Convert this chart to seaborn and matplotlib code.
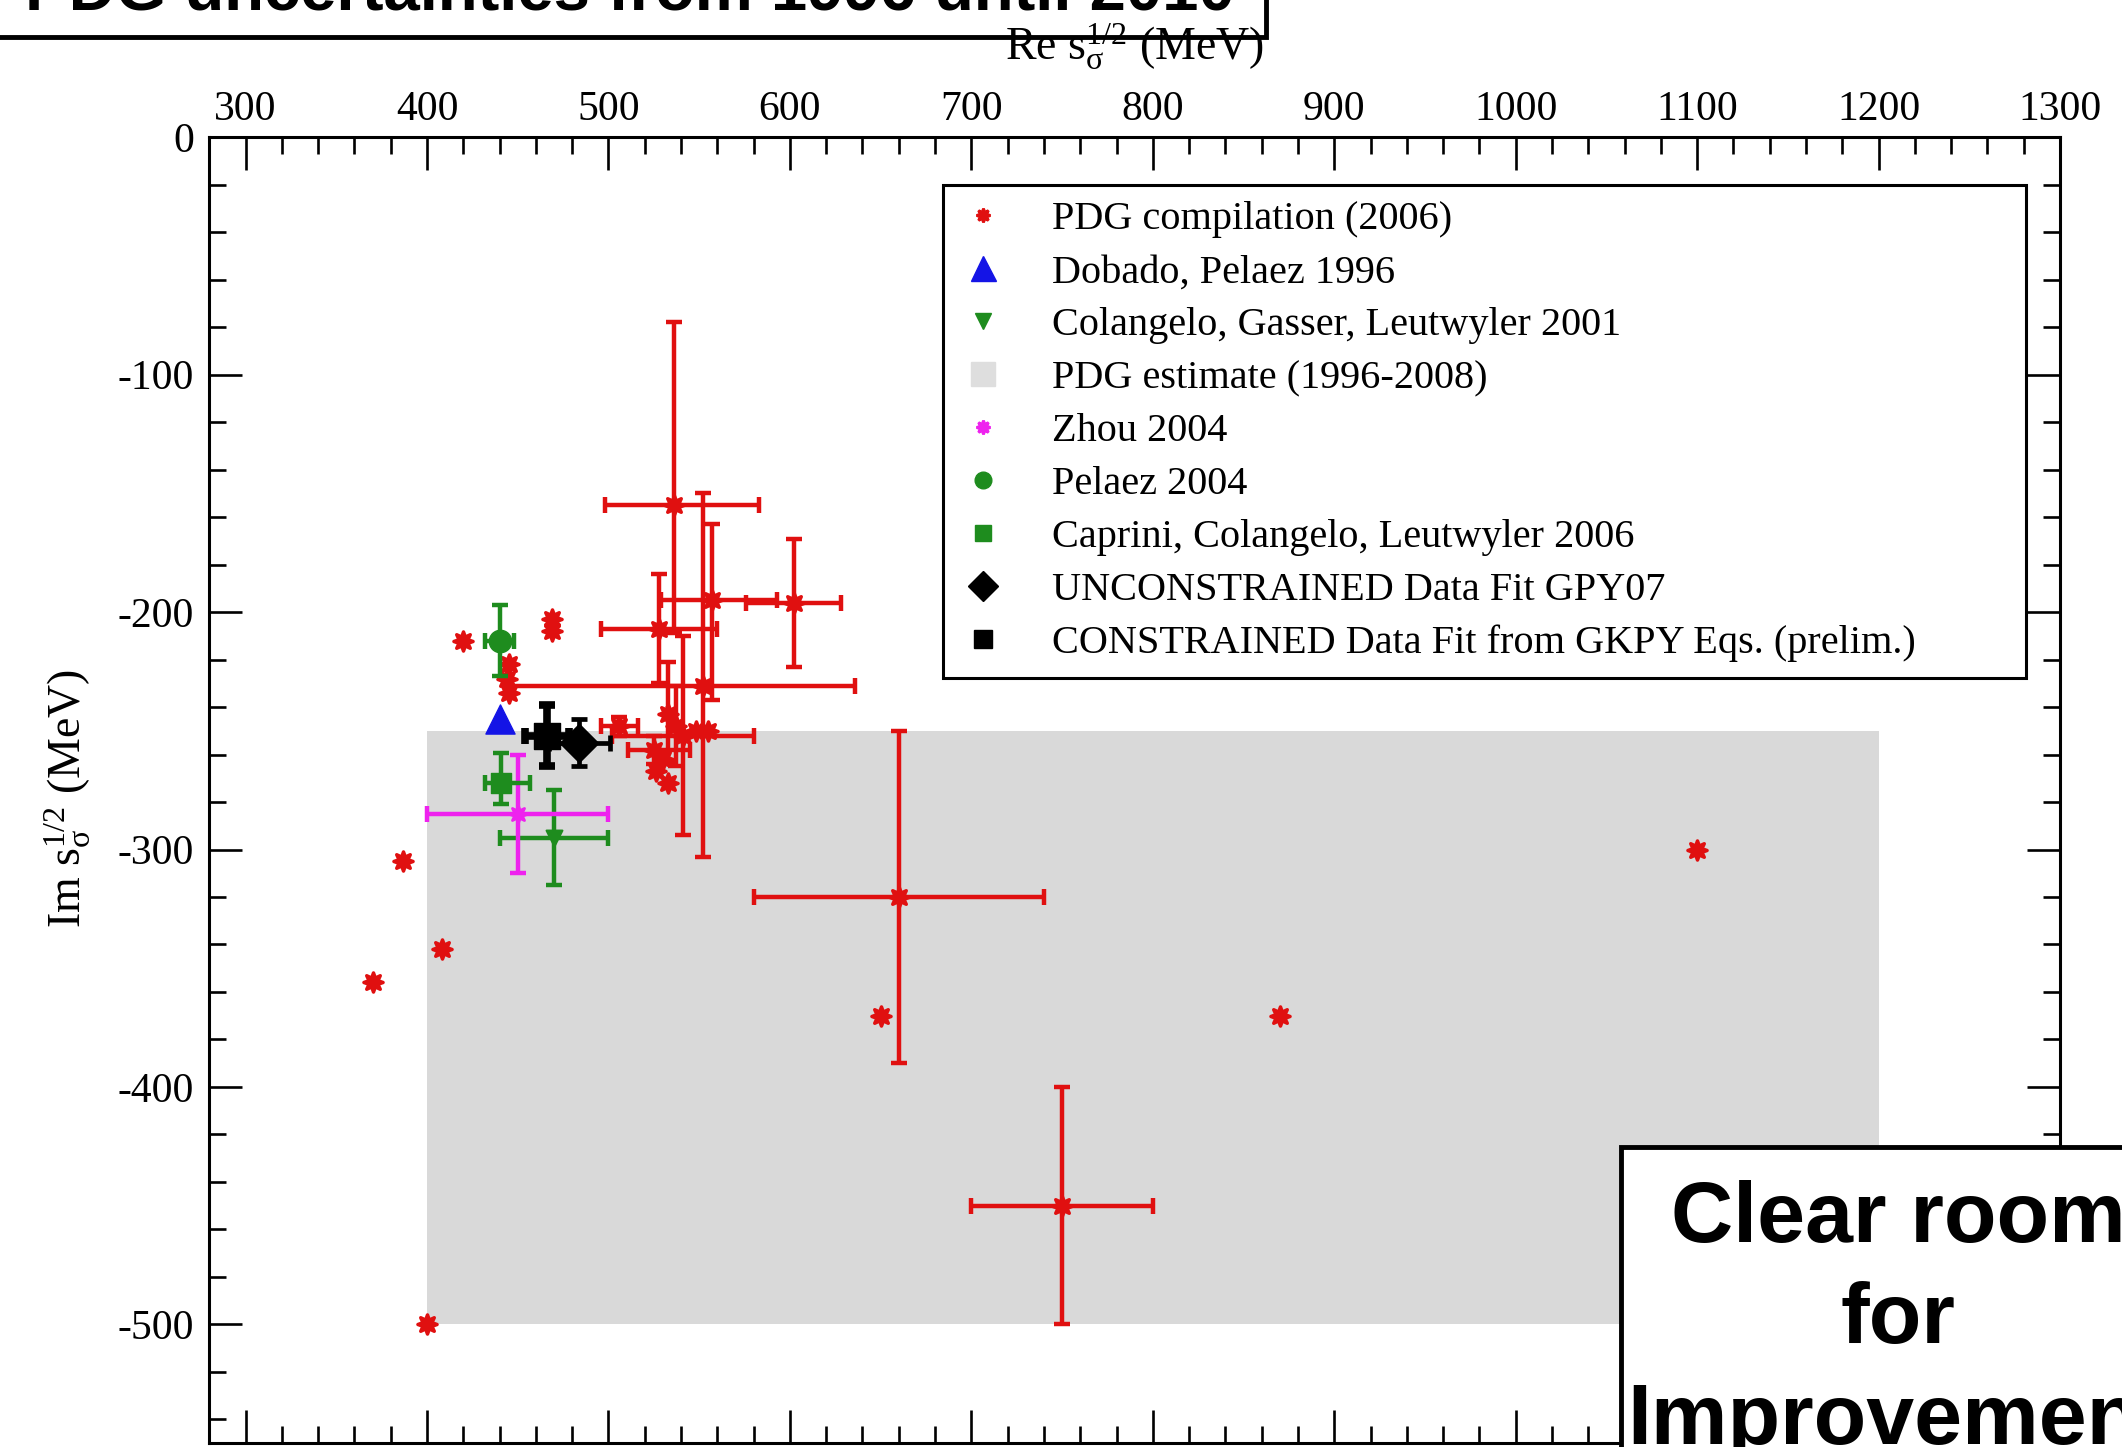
import numpy as np
import matplotlib
matplotlib.use("Agg")
import matplotlib.pyplot as plt
import seaborn as sns
from matplotlib.lines import Line2D
from matplotlib.patches import Rectangle
from matplotlib.ticker import MultipleLocator

# ---------------------------------------------------------------------------
# Sigma pole positions, sqrt(s) = Re - i Im  (MeV)
# ---------------------------------------------------------------------------
# PDG compilation (2006): entries quoted with uncertainties
pdg_err_re = [536, 552, 557, 602, 528, 541, 660, 750, 506, 525, 533, 537]
pdg_err_im = [-155, -231, -195, -196, -207, -252, -320, -450, -248, -258, -243, -248]
pdg_err_re_lo = [38, 106, 28, 26, 32, 39, 80, 50, 10, 14, 0, 0]
pdg_err_re_hi = [47, 84, 36, 26, 32, 39, 80, 50, 10, 20, 0, 0]
pdg_err_im_lo = [54, 72, 42, 27, 23, 42, 70, 50, 4, 6, 20, 17]
pdg_err_im_hi = [77, 81, 32, 27, 23, 42, 70, 50, 4, 6, 22, 17]

# PDG compilation (2006): entries without quoted uncertainties
pdg_re = [370, 387, 408, 400, 420, 469, 469, 445, 444, 445, 650, 870, 1100,
          526, 533, 530, 548, 555]
pdg_im = [-356, -305, -342, -500, -212, -203, -208, -222, -228, -234, -370,
          -370, -300, -267, -272, -262, -250, -250]

# Individual determinations
dp96_re, dp96_im = [440], [-245]
cgl01_re, cgl01_im, cgl01_dre, cgl01_dim = [470], [-295], [30], [20]
zhou04_re, zhou04_im, zhou04_dre, zhou04_dim = [450], [-285], [50], [25]
pel04_re, pel04_im, pel04_dre, pel04_dim = [440], [-212], [8], [15]
ccl06_re, ccl06_im = [441], [-272]
ccl06_dre_lo, ccl06_dre_hi = [9], [16]
ccl06_dim_lo, ccl06_dim_hi = [9], [12.5]
gpy07_re, gpy07_im, gpy07_dre, gpy07_dim = [484], [-255], [17], [10]
gkpy_re, gkpy_im, gkpy_dre, gkpy_dim = [466], [-252], [12], [13]

# PDG estimate band (1996-2008)
est_re = [400, 1200]
est_im = [-250, -500]

legend_labels = [
    "PDG compilation (2006)",
    "Dobado, Pelaez 1996",
    "Colangelo, Gasser, Leutwyler 2001",
    "PDG estimate (1996-2008)",
    "Zhou 2004",
    "Pelaez 2004",
    "Caprini, Colangelo, Leutwyler 2006",
    "UNCONSTRAINED Data Fit GPY07",
    "CONSTRAINED Data Fit from GKPY Eqs. (prelim.)",
]

x_ticks = list(range(300, 1301, 100))
y_ticks = list(range(-500, 1, 100))

RED = "#e01010"
BLUE = "#1414e6"
GREEN = "#1e8c1e"
MAGENTA = "#ee22ee"
GREY = "#d9d9d9"

# ---------------------------------------------------------------------------
sns.set_style("ticks")
plt.rcParams["font.family"] = ["Liberation Serif", "DejaVu Serif"]
plt.rcParams["axes.unicode_minus"] = False
plt.rcParams["mathtext.fontset"] = "custom"
plt.rcParams["mathtext.rm"] = "Liberation Serif"
plt.rcParams["mathtext.it"] = "Liberation Serif:italic"
plt.rcParams["mathtext.default"] = "rm"
for key in ["text.color", "axes.labelcolor", "xtick.color", "ytick.color",
            "axes.edgecolor"]:
    plt.rcParams[key] = "black"

W, H = 2122, 1447
fig = plt.figure(figsize=(W / 100, H / 100), dpi=100)
fig.patch.set_facecolor("white")

x0, x1 = 209.3, 2060.0
y0, y1 = 137.3, 1443.0
ax = fig.add_axes([x0 / W, 1 - y1 / H, (x1 - x0) / W, (y1 - y0) / H])
ax.set_xlim(280, 1300)
ax.set_ylim(-550, 0)

# PDG estimate region
ax.add_patch(Rectangle((est_re[0], est_im[1]), est_re[1] - est_re[0],
                       est_im[0] - est_im[1], facecolor=GREY,
                       edgecolor="none", zorder=0))


def bars(x, y, xerr, yerr, color, lw=3.2, cap=6.0, z=3):
    ax.errorbar(x, y, xerr=xerr, yerr=yerr, fmt="none", ecolor=color,
                elinewidth=lw, capsize=cap, capthick=lw, zorder=z)


# PDG compilation
bars(pdg_err_re, pdg_err_im,
     [pdg_err_re_lo, pdg_err_re_hi], [pdg_err_im_lo, pdg_err_im_hi], RED)
star8 = (8, 1, 0)
sns.scatterplot(x=pdg_err_re + pdg_re, y=pdg_err_im + pdg_im, marker=star8,
                s=190, color=RED, edgecolor=RED, linewidth=2.5, ax=ax,
                zorder=4, legend=False)

# Colangelo, Gasser, Leutwyler 2001
bars(cgl01_re, cgl01_im, cgl01_dre, cgl01_dim, GREEN, z=5)
sns.scatterplot(x=cgl01_re, y=cgl01_im, marker="v", s=130, color=GREEN,
                edgecolor=GREEN, linewidth=1.5, ax=ax, zorder=6, legend=False)

# Zhou 2004
bars(zhou04_re, zhou04_im, zhou04_dre, zhou04_dim, MAGENTA, z=5)
sns.scatterplot(x=zhou04_re, y=zhou04_im, marker=star8, s=150, color=MAGENTA,
                edgecolor=MAGENTA, linewidth=2, ax=ax, zorder=6, legend=False)

# Pelaez 2004
bars(pel04_re, pel04_im, pel04_dre, pel04_dim, GREEN, z=5)
sns.scatterplot(x=pel04_re, y=pel04_im, marker="o", s=260, color=GREEN,
                edgecolor=GREEN, linewidth=1, ax=ax, zorder=6, legend=False)

# Caprini, Colangelo, Leutwyler 2006
bars(ccl06_re, ccl06_im, [ccl06_dre_lo, ccl06_dre_hi],
     [ccl06_dim_lo, ccl06_dim_hi], GREEN, z=5)
sns.scatterplot(x=ccl06_re, y=ccl06_im, marker="s", s=200, color=GREEN,
                edgecolor=GREEN, linewidth=1, ax=ax, zorder=6, legend=False)

# Dobado, Pelaez 1996
sns.scatterplot(x=dp96_re, y=dp96_im, marker="^", s=440, color=BLUE,
                edgecolor=BLUE, linewidth=1, ax=ax, zorder=6, legend=False)

# GPY07 unconstrained fit
bars(gpy07_re, gpy07_im, gpy07_dre, gpy07_dim, "black", lw=3.4, cap=6, z=7)
sns.scatterplot(x=gpy07_re, y=gpy07_im, marker="D", s=380, color="black",
                edgecolor="black", linewidth=1, ax=ax, zorder=8, legend=False)

# GKPY constrained fit
bars(gkpy_re, gkpy_im, gkpy_dre, gkpy_dim, "black", lw=5.5, cap=6, z=7)
sns.scatterplot(x=gkpy_re, y=gkpy_im, marker="s", s=360, color="black",
                edgecolor="black", linewidth=1, ax=ax, zorder=8, legend=False)

# Axes styling
for sp in ax.spines.values():
    sp.set_visible(True)
    sp.set_linewidth(2.2)
    sp.set_color("black")
ax.set_xticks(x_ticks)
ax.set_yticks(y_ticks)
ax.set_xticklabels([str(v) for v in x_ticks])
ax.set_yticklabels([str(v) for v in y_ticks])
ax.xaxis.set_minor_locator(MultipleLocator(20))
ax.yaxis.set_minor_locator(MultipleLocator(20))
ax.tick_params(axis="both", which="both", direction="in", color="black",
               top=True, bottom=True, left=True, right=True,
               labeltop=True, labelbottom=False, labelleft=True,
               labelright=False)
ax.tick_params(axis="both", which="major", length=24, width=1.9,
               labelsize=30)
ax.tick_params(axis="both", which="minor", length=12, width=1.9)
ax.tick_params(axis="x", which="major", pad=6)
ax.tick_params(axis="y", which="major", pad=11)
ax.set_xlabel("")
ax.set_ylabel("")

# Legend
handles = [
    Line2D([], [], ls="none", marker=star8, color=RED, markersize=10,
           markeredgewidth=2),
    Line2D([], [], ls="none", marker="^", color=BLUE, markersize=18),
    Line2D([], [], ls="none", marker="v", color=GREEN, markersize=11),
    Line2D([], [], ls="none", marker="s", color="#dedede", markersize=17),
    Line2D([], [], ls="none", marker=star8, color=MAGENTA, markersize=10,
           markeredgewidth=2),
    Line2D([], [], ls="none", marker="o", color=GREEN, markersize=12),
    Line2D([], [], ls="none", marker="s", color=GREEN, markersize=11),
    Line2D([], [], ls="none", marker="D", color="black", markersize=15),
    Line2D([], [], ls="none", marker="s", color="black", markersize=13),
]
lx0, lx1, ly0 = 943, 2026, 185
leg = ax.legend(handles, legend_labels, loc="upper left",
                bbox_to_anchor=(lx0 / W, 1 - ly0 / H - 0.01,
                                (lx1 - lx0) / W, 0.01),
                bbox_transform=fig.transFigure, mode="expand",
                fontsize=29, frameon=True, fancybox=False, edgecolor="black",
                framealpha=1, borderpad=0.4, labelspacing=0.39,
                handlelength=1.2, handletextpad=1.1, borderaxespad=0)
leg.get_frame().set_linewidth(2.2)
leg.set_zorder(10)

# Axis titles
fig.text(67.7 / W, 1 - 798 / H, r"Im s$_{\sigma}^{1/2}$ (MeV)", rotation=90,
         ha="center", va="center", fontsize=33)

# Header box with title
fig.add_artist(Rectangle((-0.01, 1 - 37 / H), 1266 / W + 0.01, 0.2,
                         transform=fig.transFigure, facecolor="white",
                         edgecolor="black", linewidth=3.5, zorder=1))
fig.text(25 / W, 1 - 10 / H, "PDG uncertainties from 1996 until 2010",
         ha="left", va="baseline", fontsize=47, fontweight="bold",
         family=["Liberation Sans", "DejaVu Sans"], zorder=2)
fig.text(1135 / W, 1 - 60 / H, r"Re s$_{\sigma}^{1/2}$ (MeV)", ha="center",
         va="baseline", fontsize=33, zorder=3)

# Comment box at the lower right
fig.add_artist(Rectangle((1621 / W, -0.1), 0.3, 0.1 + (1 - 1147 / H),
                         transform=fig.transFigure, facecolor="white",
                         edgecolor="black", linewidth=3.5, zorder=1))
for txt, base in [("Clear room", 1242), ("for", 1343), ("Improvement", 1444)]:
    fig.text(1898 / W, 1 - base / H, txt, ha="center", va="baseline",
             fontsize=62, fontweight="bold",
             family=["Liberation Sans", "DejaVu Sans"], zorder=2)

fig.savefig("out.png", dpi=100)
